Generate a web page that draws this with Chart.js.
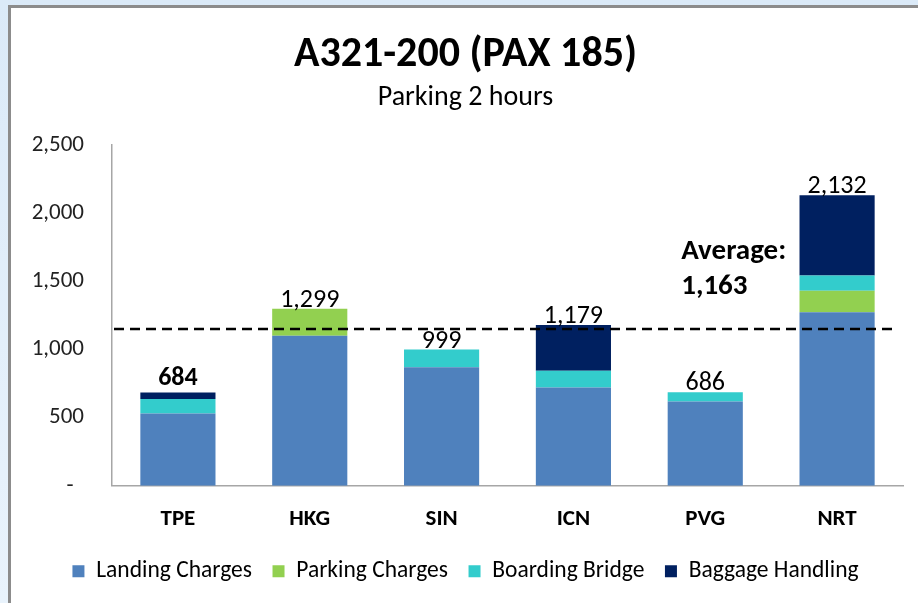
<!DOCTYPE html>
<html>
<head>
<meta charset="utf-8">
<script src="https://cdn.jsdelivr.net/npm/chart.js@4"></script>
<style>
  html, body { margin: 0; padding: 0; }
  body { width: 918px; height: 603px; overflow: hidden; position: relative;
         background: linear-gradient(#dbeaf8, #e9f3fc); }
  #panel { position: absolute; left: 8px; top: 5px; width: 920px; height: 610px;
           background: #ffffff; border-left: 3px solid #8c8c8c; border-top: 3px solid #8c8c8c; }
  #wrap { position: absolute; left: 0; top: 0; width: 918px; height: 603px; }
</style>
</head>
<body>
<div id="panel"></div>
<div id="wrap"><canvas id="c" width="918" height="603"></canvas></div>
<script>
const categories = ['TPE', 'HKG', 'SIN', 'ICN', 'PVG', 'NRT'];
const landingCharges = [530, 1100, 870, 721, 618, 1273];
const parkingCharges = [0, 199, 0, 0, 0, 157];
const boardingBridge = [106, 0, 129, 122, 68, 112];
const baggageHandling = [48, 0, 0, 336, 0, 590];
const yTicks = [0, 500, 1000, 1500, 2000, 2500];
const averageLineValue = 1150;
const averageLabel = ['Average:', '1,163'];
const titleText = 'A321-200 (PAX 185)';
const subtitleText = 'Parking 2 hours';

const FONT = 'Carlito, Lato, sans-serif';
const totals = categories.map((_, i) =>
  landingCharges[i] + parkingCharges[i] + boardingBridge[i] + baggageHandling[i]);
const fmt = v => v.toLocaleString('en-US');

const totalsPlugin = {
  id: 'totals',
  afterDatasetsDraw(chart) {
    const {ctx, scales: {x, y}, chartArea} = chart;
    ctx.save();
    ctx.textAlign = 'center';
    ctx.textBaseline = 'alphabetic';
    ctx.fillStyle = '#000';
    totals.forEach((t, i) => {
      const bold = i === 0;
      ctx.font = (bold ? 'bold ' : '') + '26px ' + FONT;
      ctx.fillText(fmt(t), x.getPixelForValue(i), y.getPixelForValue(t) - (bold ? 8 : 2));
    });
    // average line
    const ya = y.getPixelForValue(averageLineValue);
    ctx.beginPath();
    ctx.setLineDash([10, 6]);
    ctx.lineWidth = 2.5;
    ctx.strokeStyle = '#000';
    ctx.moveTo(chartArea.left + 2, ya);
    ctx.lineTo(chartArea.right - 8, ya);
    ctx.stroke();
    ctx.setLineDash([]);
    ctx.font = 'bold 29px ' + FONT;
    ctx.textAlign = 'left';
    ctx.textBaseline = 'middle';
    const xa = x.getPixelForValue(4) - 24;
    ctx.fillText(averageLabel[0], xa, ya - 77);
    ctx.fillText(averageLabel[1], xa, ya - 42);
    ctx.restore();
  }
};

const mk = (label, data, color) => ({label, data, backgroundColor: color, borderWidth: 0,
  categoryPercentage: 1, barPercentage: 0.57});

new Chart(document.getElementById('c'), {
  type: 'bar',
  data: {
    labels: categories,
    datasets: [
      mk('Landing Charges', landingCharges, '#4f81bd'),
      mk('Parking Charges', parkingCharges, '#92d050'),
      mk('Boarding Bridge', boardingBridge, '#33cccc'),
      mk('Baggage Handling', baggageHandling, '#002060')
    ]
  },
  options: {
    responsive: false,
    animation: false,
    layout: { padding: { left: 28, right: 15, top: 0, bottom: 10 } },
    plugins: {
      title: { display: true, text: titleText, color: '#000',
        font: { family: FONT, size: 42, weight: 'bold' }, padding: { top: 30, bottom: 0 } },
      subtitle: { display: true, text: subtitleText, color: '#000',
        font: { family: FONT, size: 28 }, padding: { top: 1, bottom: 30 } },
      legend: { position: 'bottom',
        labels: { color: '#000', font: { family: FONT, size: 23.5 }, boxWidth: 12, boxHeight: 12,
          padding: 10,
          generateLabels(chart) {
            const items = Chart.defaults.plugins.legend.labels.generateLabels(chart);
            items.forEach((it, i) => { if (i < items.length - 1) it.text = it.text + '  '; });
            return items;
          } } },
      tooltip: { enabled: false }
    },
    scales: {
      x: { stacked: true,
        grid: { display: false, drawTicks: false },
        border: { display: true, color: '#a6a6a6', width: 1.5 },
        ticks: { color: '#000', font: { family: FONT, size: 23, weight: 'bold' }, padding: 20 },
        afterFit(s) { s.height = 63.75; } },
      y: { stacked: true, min: 0, max: 2500,
        grid: { display: false, drawTicks: false },
        border: { display: true, color: '#a6a6a6', width: 1.5 },
        afterBuildTicks(s) { s.ticks = yTicks.map(v => ({value: v})); },
        ticks: { color: '#222', font: { family: FONT, size: 23 }, padding: 28,
          callback: v => v === 0 ? '-  ' : fmt(v) },
        afterFit(s) { s.width = 84; } }
    }
  },
  plugins: [totalsPlugin]
});
</script>
</body>
</html>
